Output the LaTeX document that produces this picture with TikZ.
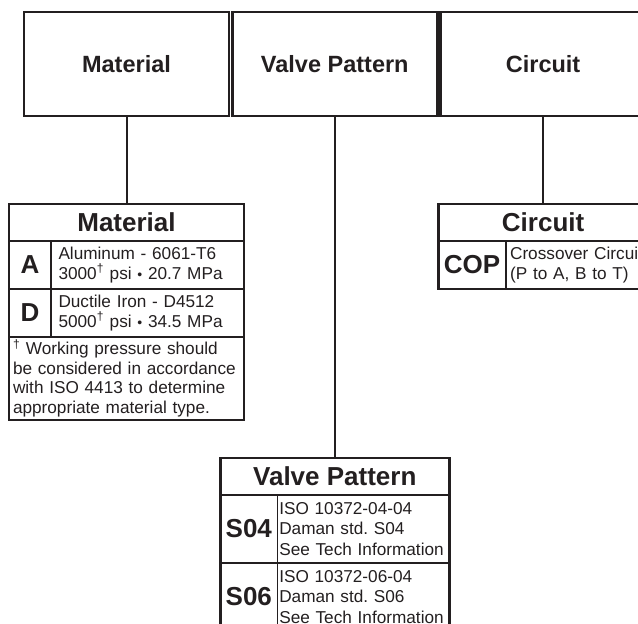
\documentclass[tikz,border=0pt]{standalone}
\usepackage{fontspec}
\setmainfont{Liberation Sans}
\usepackage{tikz}
\usetikzlibrary{positioning}
\definecolor{DMNink}{HTML}{231F20}

\newcommand{\bodysize}{\fontsize{17.2}{19.5}\selectfont\frenchspacing}
\newcommand{\dotsep}{{\fontsize{14}{14}\selectfont •}}

\begin{document}
\begin{tikzpicture}[x=1pt, y=1pt, color=DMNink,
  headbox/.style={draw, line width=2.5pt, outer sep=0pt, inner sep=0pt,
    minimum width=205pt, minimum height=104pt,
    font=\fontsize{23.5}{28}\selectfont\bfseries},
  titlecell/.style={draw, line width=1.8pt, outer sep=0pt, inner sep=0pt,
    minimum height=37pt, font=\fontsize{26}{30}\selectfont\bfseries},
  codecell/.style={draw, line width=1.6pt, outer sep=0pt, inner sep=0pt,
    font=\fontsize{26}{30}\selectfont\bfseries},
  desccell/.style={draw, line width=1.6pt, outer sep=0pt, inner ysep=2pt,
    align=left, font=\bodysize},
  frame/.style={line width=2.8pt},
  link/.style={line width=2pt}]

\useasboundingbox (0,0) rectangle (638,-624);
\clip (0,0) rectangle (638,-624);

% top row
\node[headbox, anchor=north west] (matHead) at (24,-12) {Material};
\node[headbox, right=3.3pt of matHead] (valveHead) {Valve Pattern};
\node[headbox, right=3.3pt of valveHead] (circHead) {Circuit};

% material table
\node[titlecell, minimum width=235pt, below=88pt of matHead] (matTitle) {Material};
\node[codecell, minimum width=42pt, minimum height=48pt,
  below right=0pt of matTitle.south west] (matA) {A};
\node[desccell, minimum height=48pt, text width=178pt, inner xsep=7.5pt,
  right=0pt of matA] (matAdesc)
  {Aluminum - 6061-T6\\3000\textsuperscript{†} psi \dotsep{} 20.7 MPa};
\node[codecell, minimum width=42pt, minimum height=48pt,
  below right=0pt of matA.south west] (matD) {D};
\node[desccell, minimum height=48pt, text width=178pt, inner xsep=7.5pt,
  right=0pt of matD] (matDdesc)
  {Ductile Iron - D4512\\5000\textsuperscript{†} psi \dotsep{} 34.5 MPa};
\node[desccell, minimum height=83pt, text width=227pt, inner xsep=4pt,
  inner ysep=1pt, below right=0pt of matD.south west] (matNote)
  {\textsuperscript{†} Working pressure should\\be considered in accordance\\
   with ISO 4413 to determine\\appropriate material type.};
\draw[frame] (matTitle.north west) rectangle (matNote.south east);

% valve pattern table
\node[titlecell, minimum width=229pt, below=342pt of valveHead] (valveTitle) {Valve Pattern};
\node[codecell, minimum width=57pt, minimum height=68pt,
  below right=0pt of valveTitle.south west] (valveS04) {S04};
\node[desccell, minimum height=68pt, text width=168pt, inner xsep=2pt,
  font=\fontsize{17.2}{20.5}\selectfont\frenchspacing,
  right=0pt of valveS04] (valveS04desc)
  {\mbox{ISO 10372-04-04}\\\mbox{Daman std. S04}\\\mbox{See Tech Information}};
\node[codecell, minimum width=57pt, minimum height=68pt,
  below right=0pt of valveS04.south west] (valveS06) {S06};
\node[desccell, minimum height=68pt, text width=168pt, inner xsep=2pt,
  font=\fontsize{17.2}{20.5}\selectfont\frenchspacing,
  right=0pt of valveS06] (valveS06desc)
  {\mbox{ISO 10372-06-04}\\\mbox{Daman std. S06}\\\mbox{See Tech Information}};
\draw[frame] (valveTitle.north west) rectangle (valveS06desc.south east);

% circuit table
\node[titlecell, minimum width=210pt, below=88pt of circHead] (circTitle) {Circuit};
\node[codecell, minimum width=68pt, minimum height=48pt,
  below right=0pt of circTitle.south west] (circCOP) {COP};
\node[desccell, minimum height=48pt, text width=134pt, inner xsep=4pt,
  right=0pt of circCOP] (circCOPdesc)
  {\mbox{Crossover Circuit}\\(P to A, B to T)};
\draw[frame] (circTitle.north west) rectangle (circCOPdesc.south east);

% links
\draw[link] (matHead) -- (matTitle);
\draw[link] (valveHead) -- (valveTitle);
\draw[link] (circHead) -- (circTitle);
\end{tikzpicture}
\end{document}
